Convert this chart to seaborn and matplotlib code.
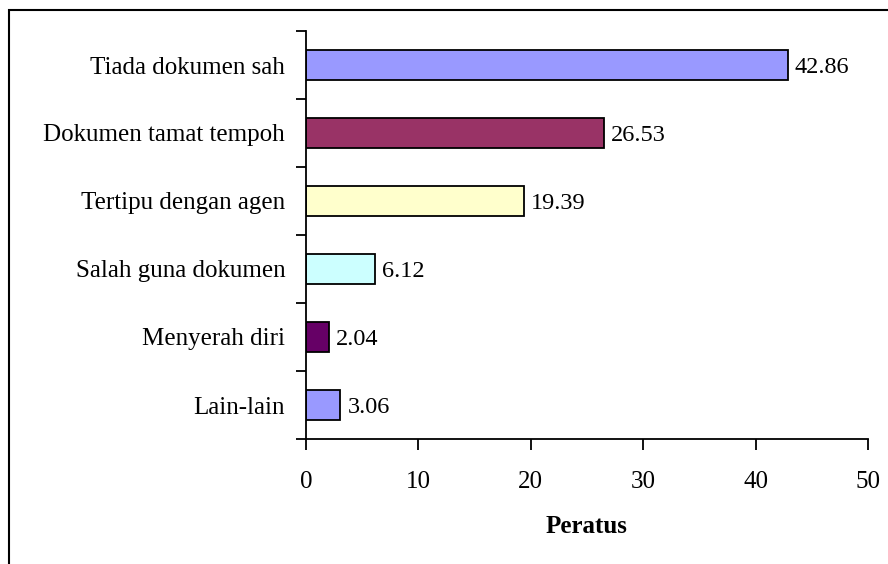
import numpy as np
import pandas as pd
import matplotlib
matplotlib.use("Agg")
import matplotlib.pyplot as plt
import seaborn as sns
from matplotlib.patches import Rectangle

categories = ["Tiada dokumen sah", "Dokumen tamat tempoh", "Tertipu dengan agen",
              "Salah guna dokumen", "Menyerah diri", "Lain-lain"]
values = [42.86, 26.53, 19.39, 6.12, 2.04, 3.06]
colors = ["#9999FF", "#993366", "#FFFFCC", "#CCFFFF", "#660066", "#9999FF"]
x_ticks = [0, 10, 20, 30, 40, 50]

df = pd.DataFrame({"kategori": categories, "peratus": values})

sns.set_style("white")
plt.rcParams["font.family"] = ["Liberation Serif", "DejaVu Serif"]
fs = 18

fig = plt.figure(figsize=(8.88, 5.64), dpi=100)
ax = fig.add_axes([306 / 888, 1 - 439 / 564, (868 - 306) / 888, (439 - 31) / 564])

sns.barplot(data=df, x="peratus", y="kategori", hue="kategori", palette=colors,
            saturation=1, orient="h", width=0.43, edgecolor="black", linewidth=1.3,
            legend=False, ax=ax)

for i, v in enumerate(values):
    ax.annotate(f"{v:.2f}", (v, i), xytext=(5, 0), textcoords="offset points",
                va="center_baseline", ha="left", fontsize=17.5, color="black")

ax.set_xlim(0, 50)
ax.set_ylim(len(categories) - 0.5, -0.5)
ax.set_xticks(x_ticks)
ax.set_xticklabels([str(t) for t in x_ticks], fontsize=fs, color="black")
ax.set_yticks(range(len(categories)))
ax.set_yticklabels(categories, fontsize=fs, color="black")
ax.set_yticks(np.arange(-0.5, len(categories), 1.0), minor=True)
ax.tick_params(axis="y", which="major", length=0, pad=15)
ax.tick_params(axis="y", which="minor", length=7, width=1.3, direction="out", color="black", left=True)
ax.tick_params(axis="x", which="major", length=8, width=1.3, direction="out", color="black", bottom=True, pad=15)
ax.set_xlabel("Peratus", fontsize=fs, fontweight="bold", labelpad=16, color="black")
ax.set_ylabel("")

for side in ["top", "right"]:
    ax.spines[side].set_visible(False)
for side in ["left", "bottom"]:
    ax.spines[side].set_color("black")
    ax.spines[side].set_linewidth(1.3)

# frame around the chart (right and bottom edges fall outside the image)
fig.patches.append(Rectangle((9 / 888, -0.05), 1.0, 1 - 10 / 564 + 0.05,
                             transform=fig.transFigure, fill=False, edgecolor="black",
                             linewidth=1.5))

fig.savefig("out.png", dpi=100)
